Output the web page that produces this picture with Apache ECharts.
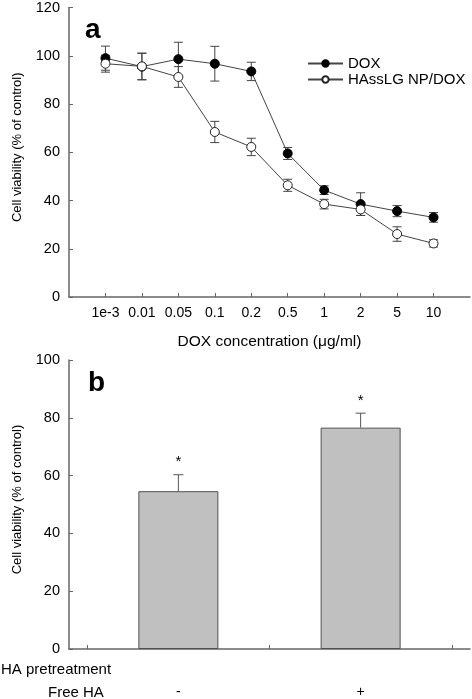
<!DOCTYPE html>
<html><head><meta charset="utf-8">
<script src="https://cdn.jsdelivr.net/npm/echarts@6/dist/echarts.min.js"></script>
<style>html,body{margin:0;padding:0;background:#fff}#c{width:472px;height:699px}</style>
</head><body><div id="c"></div>
<script>
// Panel a
const concLabels = ['1e-3','0.01','0.05','0.1','0.2','0.5','1','2','5','10'];
const doxMean = [99.0, 95.5, 98.6, 96.7, 93.5, 59.5, 44.3, 38.5, 35.6, 33.0];
const doxErr  = [5.0, 5.5, 7.0, 7.2, 3.8, 2.5, 1.8, 4.7, 2.3, 2.0];
const npMean  = [96.7, 95.6, 91.2, 68.4, 62.2, 46.3, 38.5, 36.3, 26.1, 22.2];
const npErr   = [3.5, 5.5, 4.3, 4.4, 3.6, 2.5, 2.0, 2.5, 3.0, 1.5];
// Panel b
const haLabels = ['-', '+'];
const haMean = [54.6, 76.6];
const haErr  = [5.7, 5.0];

const FONT = '"Liberation Sans", Arial, sans-serif';
const AX = '#666';
const LN = '#444';

const idx = concLabels.map((_, i) => i + 1);
const doxPts = doxMean.map((v, i) => [i + 1, v]);
const npPts = npMean.map((v, i) => [i + 1, v]);
const doxEb = doxMean.map((v, i) => [i + 1, v - doxErr[i], v + doxErr[i]]);
const npEb = npMean.map((v, i) => [i + 1, v - npErr[i], v + npErr[i]]);
const haBars = haMean.map((v, i) => [i, v]);
const haEb = haMean.map((v, i) => [i, v, v + haErr[i]]);

function errRender(params, api) {
  const x = api.value(0), lo = api.value(1), hi = api.value(2);
  const p1 = api.coord([x, hi]), p2 = api.coord([x, lo]);
  const w = 4.5;
  const st = { stroke: LN, lineWidth: 1 };
  return { type: 'group', children: [
    { type: 'line', shape: { x1: p1[0], y1: p1[1], x2: p2[0], y2: p2[1] }, style: st },
    { type: 'line', shape: { x1: p1[0] - w, y1: p1[1], x2: p1[0] + w, y2: p1[1] }, style: st },
    { type: 'line', shape: { x1: p2[0] - w, y1: p2[1], x2: p2[0] + w, y2: p2[1] }, style: st }
  ]};
}
function errRenderB(params, api) {
  const x = api.value(0), lo = api.value(1), hi = api.value(2);
  const p1 = api.coord([x, hi]), p2 = api.coord([x, lo]);
  const w = 5;
  const st = { stroke: '#555', lineWidth: 1 };
  return { type: 'group', children: [
    { type: 'line', shape: { x1: p1[0], y1: p1[1], x2: p2[0], y2: p2[1] }, style: st },
    { type: 'line', shape: { x1: p1[0] - w, y1: p1[1], x2: p1[0] + w, y2: p1[1] }, style: st },
    { type: 'text', x: p1[0], y: p1[1] - 5, style: { text: '*', align: 'center', verticalAlign: 'bottom', font: '15px ' + FONT, fill: '#000' } }
  ]};
}

const chart = echarts.init(document.getElementById('c'), null, { renderer: 'canvas' });
chart.setOption({
  animation: false,
  backgroundColor: '#fff',
  textStyle: { fontFamily: FONT, color: '#000' },
  title: [
    { text: 'a', left: 80, top: 11, textStyle: { fontSize: 28, fontWeight: 'bold', color: '#000', fontFamily: FONT } },
    { text: 'b', left: 83, top: 364, textStyle: { fontSize: 28, fontWeight: 'bold', color: '#000', fontFamily: FONT } }
  ],
  legend: {
    data: ['DOX', 'HAssLG NP/DOX'],
    orient: 'vertical', left: 302, top: 51, itemWidth: 35, itemHeight: 8, itemGap: 1,
    textStyle: { fontSize: 15, lineHeight: 15, color: '#000', fontFamily: FONT }
  },
  graphic: [
    { type: 'text', left: 1, top: 662, style: { text: 'HA pretreatment', font: '15px ' + FONT, fill: '#000' } },
    { type: 'text', left: 48, top: 685, style: { text: 'Free HA', font: '15px ' + FONT, fill: '#000' } }
  ],
  grid: [
    { left: 69, right: 2, top: 7, height: 290 },
    { left: 69, right: 2, top: 360, height: 290 }
  ],
  xAxis: [
    { gridIndex: 0, type: 'value', min: 0, max: 11,
      name: 'DOX concentration (\u03bcg/ml)', nameLocation: 'middle', nameGap: 37,
      nameTextStyle: { fontSize: 15.5, color: '#000' },
      axisLine: { onZero: false, lineStyle: { color: AX, width: 1.5 } },
      axisTick: { inside: true, length: 4, lineStyle: { color: AX }, customValues: idx },
      axisLabel: { customValues: idx, margin: 9, fontSize: 14, color: '#000', formatter: v => concLabels[Math.round(v) - 1] || '' },
      splitLine: { show: false } },
    { gridIndex: 1, type: 'value', min: -0.6, max: 1.6,
      axisLine: { onZero: false, lineStyle: { color: AX, width: 1.5 } },
      axisTick: { inside: true, length: 4, lineStyle: { color: AX }, customValues: [-0.5, 0.5, 1.5] },
      axisLabel: { customValues: [0, 1], margin: 36, fontSize: 14, color: '#000', formatter: v => haLabels[Math.round(v)] || '' },
      splitLine: { show: false } }
  ],
  yAxis: [
    { gridIndex: 0, type: 'value', min: 0, max: 120, interval: 20,
      name: 'Cell viability (% of control)', nameLocation: 'middle', nameGap: 45,
      nameTextStyle: { fontSize: 13, color: '#000', padding: [0, 0, 0, 10] },
      axisLine: { show: true, onZero: false, lineStyle: { color: AX, width: 1.5 } },
      axisTick: { show: true, inside: true, length: 4, lineStyle: { color: AX } },
      axisLabel: { fontSize: 14.5, color: '#000', margin: 9 },
      splitLine: { show: false } },
    { gridIndex: 1, type: 'value', min: 0, max: 100, interval: 20,
      name: 'Cell viability (% of control)', nameLocation: 'middle', nameGap: 45,
      nameTextStyle: { fontSize: 13, color: '#000', padding: [0, 0, 0, 10] },
      axisLine: { show: true, onZero: false, lineStyle: { color: AX, width: 1.5 } },
      axisTick: { show: true, inside: true, length: 4, lineStyle: { color: AX } },
      axisLabel: { fontSize: 14.5, color: '#000', margin: 9 },
      splitLine: { show: false } }
  ],
  series: [
    { type: 'custom', xAxisIndex: 0, yAxisIndex: 0, renderItem: errRender, data: doxEb, z: 1, silent: true,
      dimensions: ['x', 'lo', 'hi'], encode: { x: 0, y: [1, 2] } },
    { type: 'custom', xAxisIndex: 0, yAxisIndex: 0, renderItem: errRender, data: npEb, z: 1, silent: true,
      dimensions: ['x', 'lo', 'hi'], encode: { x: 0, y: [1, 2] } },
    { name: 'DOX', type: 'line', xAxisIndex: 0, yAxisIndex: 0, data: doxPts, z: 3,
      symbol: 'circle', symbolSize: 9, showAllSymbol: true,
      lineStyle: { color: LN, width: 1 }, itemStyle: { color: '#000', borderColor: '#000', borderWidth: 1 } },
    { name: 'HAssLG NP/DOX', type: 'line', xAxisIndex: 0, yAxisIndex: 0, data: npPts, z: 4,
      symbol: 'circle', symbolSize: 9, showAllSymbol: true,
      lineStyle: { color: LN, width: 1 }, itemStyle: { color: '#fff', borderColor: '#222', borderWidth: 1 } },
    { type: 'bar', xAxisIndex: 1, yAxisIndex: 1, data: haBars, barWidth: 80, z: 2,
      itemStyle: { color: '#c0c0c0', borderColor: '#505050', borderWidth: 1 } },
    { type: 'custom', xAxisIndex: 1, yAxisIndex: 1, renderItem: errRenderB, data: haEb, z: 3, silent: true,
      dimensions: ['x', 'lo', 'hi'], encode: { x: 0, y: [1, 2] } }
  ]
});
</script></body></html>
